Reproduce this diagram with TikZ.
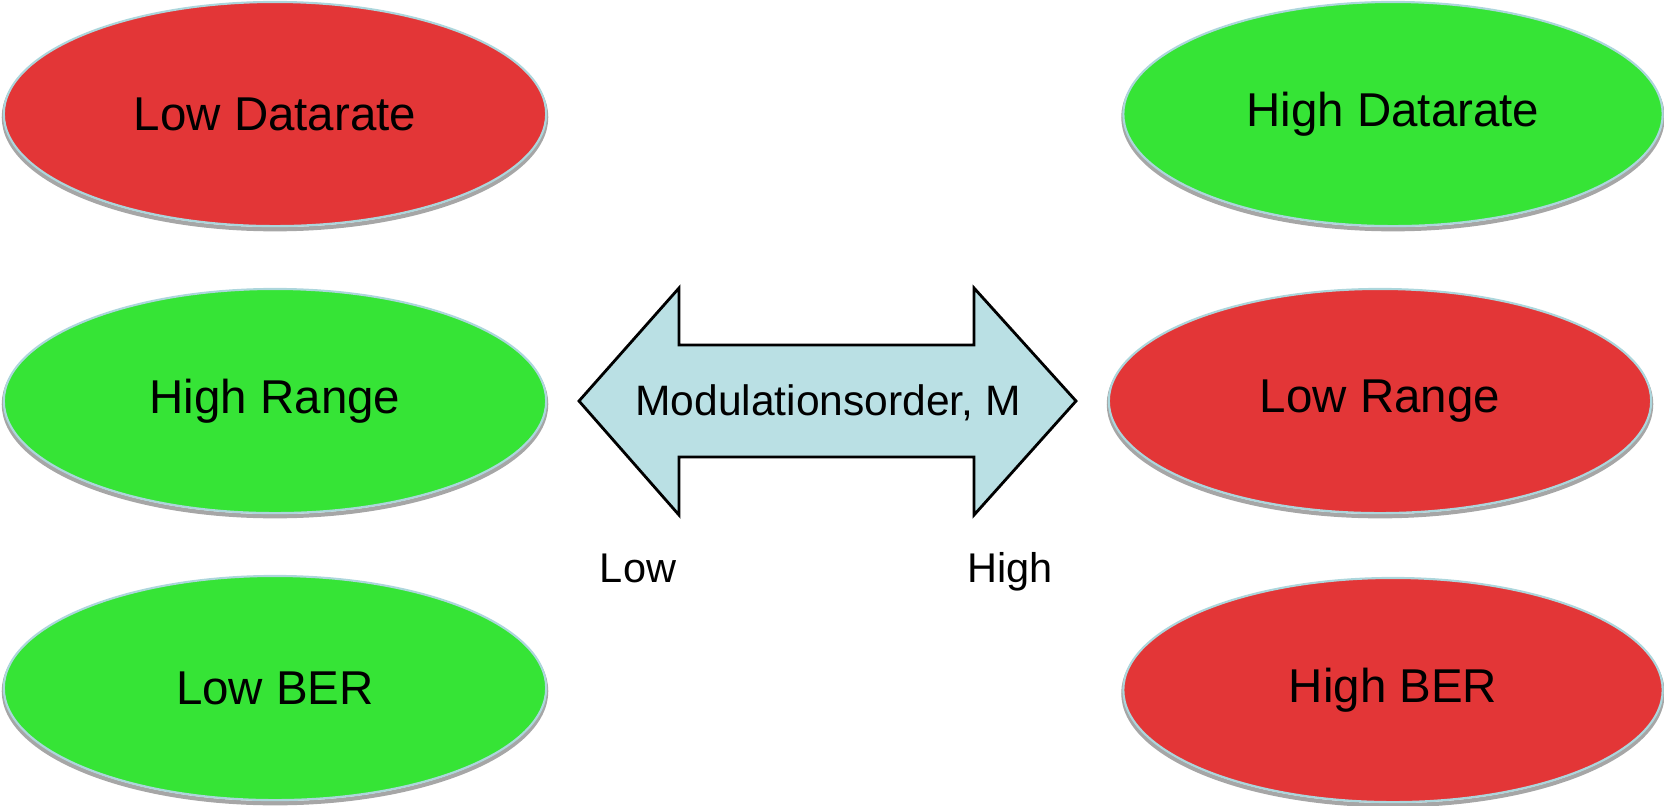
\documentclass[tikz,border=0pt]{standalone}
\usepackage{fontspec}
\setmainfont{Liberation Sans}
\usetikzlibrary{shapes.geometric}
\definecolor{badred}{RGB}{227,54,55}
\definecolor{goodgreen}{RGB}{54,228,54}
\definecolor{rimblue}{RGB}{172,214,220}
\definecolor{arrowfill}{RGB}{186,224,228}
\tikzset{
  oval/.style={ellipse, inner sep=0pt, minimum width=5.42cm, minimum height=2.24cm,
    draw=rimblue, line width=0.6pt,
    font=\fontsize{13.5}{16}\selectfont,
    preaction={draw=black!35, line width=1.2pt, transform canvas={yshift=-0.9pt}}},
  bad/.style={oval, fill=badred},
  good/.style={oval, fill=goodgreen},
  axislabel/.style={font=\fontsize{11.8}{14}\selectfont, inner sep=0pt, anchor=base},
}
\begin{document}
\begin{tikzpicture}[x=0.01cm, y=-0.01cm]
  \useasboundingbox (0,0) rectangle (1664,805);

  % left column: low modulation order
  \node[bad]  (ldr) at (275,114) {Low Datarate};
  \node[good] (hrg) at (275,401) {High Range};
  \node[good] (lber) at (275,688) {Low BER};

  % right column: high modulation order
  \node[good, minimum width=5.39cm] (hdr) at (1393,114) {High Datarate};
  \node[bad]  (lrg) at (1380,401) {Low Range};
  \node[bad, minimum width=5.39cm]  (hber) at (1393,690) {High BER};

  % double-headed block arrow
  \draw[fill=arrowfill, line width=0.8pt, line join=miter]
    (579,401) -- (679,288) -- (679,345) -- (974,345) -- (974,288)
    -- (1076,401) -- (974,515) -- (974,457) -- (679,457) -- (679,515) -- cycle;
  \node[font=\fontsize{12.1}{14}\selectfont] (mod) at (828,403) {Modulationsorder, M};

  % ends of the axis
  \node[axislabel] (low)  at (638,582) {Low};
  \node[axislabel] (high) at (1010,582) {High};
\end{tikzpicture}
\end{document}
